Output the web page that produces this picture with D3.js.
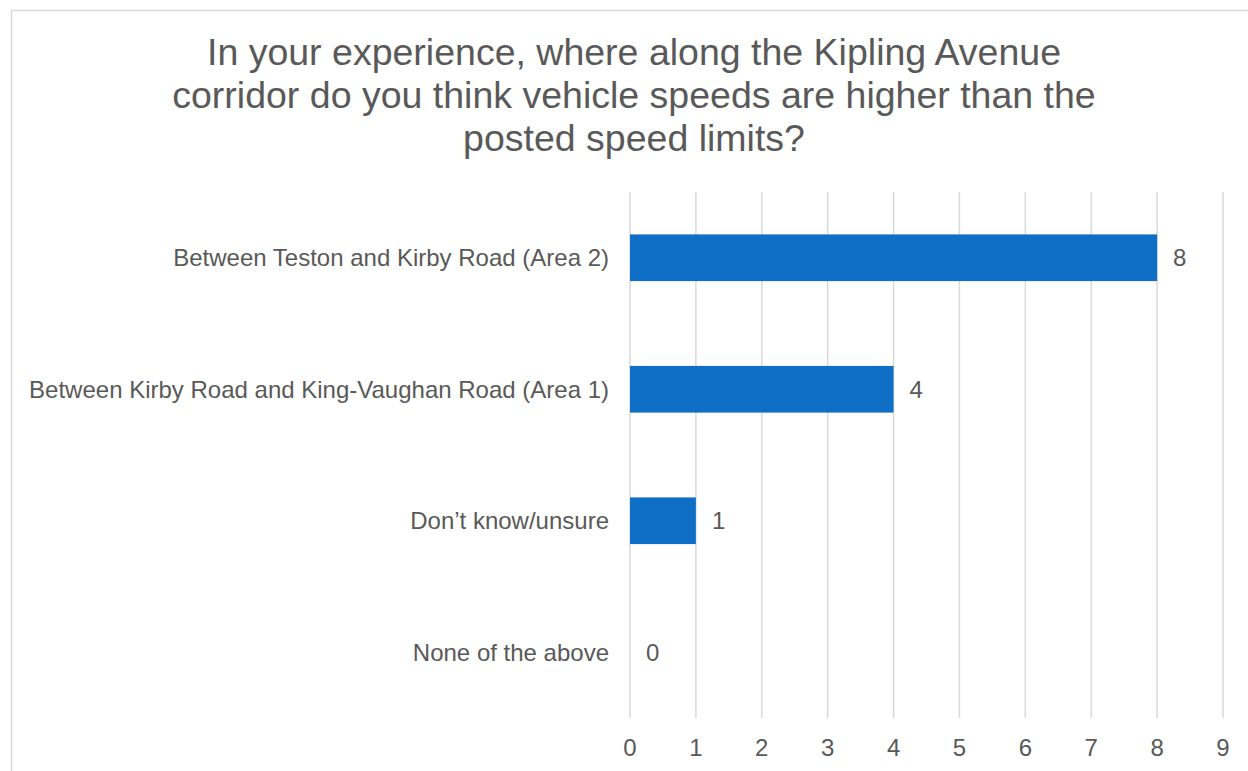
<!DOCTYPE html>
<html>
<head>
  <meta charset="UTF-8">
  <style>
    body {
        margin: 0;
        background: #fff;
        font-family: Arial, "Liberation Sans", sans-serif;
    }
    .title {
        font-size: 37.5px;
        fill: #595959;
    }
    .cat, .val, .tick-label {
        font-size: 24px;
        fill: #595959;
    }
  </style>
</head>
<body>
<svg id="chart"></svg>

<script src="https://cdn.jsdelivr.net/npm/d3@7"></script>
<script>

// data
const categories = [
  "Between Teston and Kirby Road (Area 2)",
  "Between Kirby Road and King-Vaughan Road (Area 1)",
  "Don\u2019t know/unsure",
  "None of the above"
];
const counts = [8, 4, 1, 0];
const xTicks = [0, 1, 2, 3, 4, 5, 6, 7, 8, 9];
const titleLines = [
  "In your experience, where along the Kipling Avenue",
  "corridor do you think vehicle speeds are higher than the",
  "posted speed limits?"
];

const W = 1248, H = 771;
let margin = {top: 192, right: 25, bottom: 53, left: 630};

let svg = d3.select("#chart")
  .attr("width", W)
  .attr("height", H);

// outer chart border (runs off the right and bottom edges)
svg.append("rect")
  .attr("x", 11.5)
  .attr("y", 10.5)
  .attr("width", W)
  .attr("height", H)
  .attr("fill", "none")
  .attr("stroke", "#d9d9d9")
  .attr("stroke-width", 1.5);

// title
svg.append("text")
  .attr("class", "title")
  .attr("text-anchor", "middle")
  .selectAll("tspan")
  .data(titleLines)
  .join("tspan")
    .attr("x", 634)
    .attr("y", (d, i) => 65 + i * 43)
    .text(d => d);

let x = d3.scaleLinear()
  .domain([0, 9])
  .range([margin.left, 1223]);

let y = d3.scaleBand()
  .domain(categories)
  .range([margin.top, H - margin.bottom])
  .paddingInner(0.645)
  .paddingOuter(0.3225);

// gridlines
svg.append("g")
  .selectAll("line")
  .data(xTicks)
  .join("line")
    .attr("x1", d => x(d))
    .attr("x2", d => x(d))
    .attr("y1", margin.top)
    .attr("y2", H - margin.bottom)
    .attr("stroke", "#d9d9d9")
    .attr("stroke-width", 1.5);

// x tick labels
svg.append("g")
  .selectAll("text")
  .data(xTicks)
  .join("text")
    .attr("class", "tick-label")
    .attr("x", d => x(d))
    .attr("y", 756)
    .attr("text-anchor", "middle")
    .text(d => d);

// bars
svg.append("g")
  .selectAll("rect")
  .data(counts)
  .join("rect")
    .attr("x", x(0))
    .attr("y", (d, i) => y(categories[i]))
    .attr("width", d => x(d) - x(0))
    .attr("height", y.bandwidth())
    .attr("fill", "#0f6fc6");

// value labels
svg.append("g")
  .selectAll("text")
  .data(counts)
  .join("text")
    .attr("class", "val")
    .attr("x", d => x(d) + 16)
    .attr("y", (d, i) => y(categories[i]) + y.bandwidth() / 2)
    .attr("dy", "0.36em")
    .text(d => d);

// category labels
svg.append("g")
  .selectAll("text")
  .data(categories)
  .join("text")
    .attr("class", "cat")
    .attr("x", margin.left - 21)
    .attr("y", d => y(d) + y.bandwidth() / 2)
    .attr("dy", "0.36em")
    .attr("text-anchor", "end")
    .text(d => d);

</script>
</body>
</html>
